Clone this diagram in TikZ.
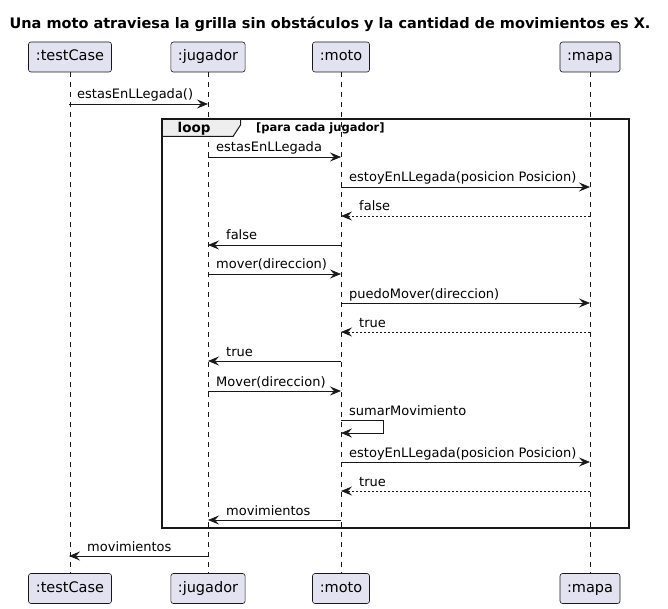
\documentclass[tikz,border=0pt]{standalone}
\usepackage{fontspec}
\setmainfont{DejaVu Sans}
\usetikzlibrary{arrows.meta}
\definecolor{boxfill}{HTML}{E2E2F0}
\definecolor{ink}{HTML}{181818}
\definecolor{tabfill}{HTML}{EEEEEE}
\tikzset{
  part/.style={draw=ink, line width=0.6pt, fill=boxfill, rounded corners=2.5pt, minimum height=30pt, inner xsep=7pt, text height=10.5pt, text depth=3.5pt, font=\fontsize{14.5}{16}\selectfont},
  lifeline/.style={draw=ink, line width=0.5pt, dash pattern=on 5pt off 5pt},
  call/.style={draw=ink, line width=0.8pt, -{Stealth[length=11pt,width=9pt,inset=4pt]}},
  ret/.style={call, dash pattern=on 2pt off 2pt},
  lbl/.style={font=\fontsize{13}{15}\selectfont, anchor=base west, inner sep=0pt, text=black},
}
\newcommand{\msgline}[6]{%
  \coordinate (a#1) at (#2,#4);
  \coordinate (b#1) at (#3,#4);
  \draw[#6] (a#1) -- (b#1);
}
\begin{document}
\begin{tikzpicture}[x=1pt,y=-1pt]
\useasboundingbox (0,0) rectangle (668,609);
\node[font=\bfseries\fontsize{14.5}{16}\selectfont, anchor=base] (title) at (330,29) {Una moto atraviesa la grilla sin obstáculos y la cantidad de movimientos es X.};
% participants
\node[part, minimum width=83pt] (tT) at (70,57) {:testCase};
\node[part, minimum width=72pt] (tJ) at (208,57) {:jugador};
\node[part, minimum width=57pt] (tM) at (341,57) {:moto};
\node[part, minimum width=58pt] (tP) at (590,57) {:mapa};
\node[part, minimum width=83pt] (bT) at (70,588.5) {:testCase};
\node[part, minimum width=72pt] (bJ) at (208,588.5) {:jugador};
\node[part, minimum width=57pt] (bM) at (341,588.5) {:moto};
\node[part, minimum width=58pt] (bP) at (590,588.5) {:mapa};
\foreach \p in {T,J,M,P} \draw[lifeline] (t\p.south) -- (b\p.north);
% loop frame
\coordinate (fA) at (162,119);
\coordinate (fB) at (629,528);
\draw[fill=tabfill, draw=ink, line width=1pt] (162,119) -- (240.5,119) -- (240.5,125) -- (233,136.5) -- (162,136.5) -- cycle;
\draw[draw=ink, line width=1.5pt] (fA) rectangle (fB);
\node[font=\bfseries\fontsize{13.5}{15}\selectfont, anchor=base west, inner sep=0pt] (looplbl) at (177.5,132.5) {loop};
\node[font=\bfseries\fontsize{11.5}{13}\selectfont, anchor=base west, inner sep=0pt] (loopcond) at (256,131.5) {[para cada jugador]};
% messages
\msgline{1}{69}{208}{104}{}{call}
\node[lbl] at (77,99) {estasEnLLegada()};
\msgline{2}{208}{341}{157}{}{call}
\node[lbl] at (216,152) {estasEnLLegada};
\msgline{3}{341}{590}{187}{}{call}
\node[lbl] at (349,182) {estoyEnLLegada(posicion Posicion)};
\msgline{4}{590}{341}{216}{}{ret}
\node[lbl] at (359,211) {false};
\msgline{5}{341}{208}{245}{}{call}
\node[lbl] at (226,240) {false};
\msgline{6}{208}{341}{274}{}{call}
\node[lbl] at (216,269) {mover(direccion)};
\msgline{7}{341}{590}{303}{}{call}
\node[lbl] at (349,298) {puedoMover(direccion)};
\msgline{8}{590}{341}{332}{}{ret}
\node[lbl] at (359,327) {true};
\msgline{9}{341}{208}{361}{}{call}
\node[lbl] at (226,356) {true};
\msgline{10}{208}{341}{391}{}{call}
\node[lbl] at (216,386) {Mover(direccion)};
% self message
\coordinate (s1) at (341,420.5);
\coordinate (s2) at (383,420.5);
\coordinate (s3) at (383,433);
\coordinate (s4) at (341,433);
\draw[call] (s1) -- (s2) -- (s3) -- (s4);
\node[lbl] at (349,415) {sumarMovimiento};
\msgline{11}{341}{590}{462}{}{call}
\node[lbl] at (349,457) {estoyEnLLegada(posicion Posicion)};
\msgline{12}{590}{341}{491}{}{ret}
\node[lbl] at (359,486) {true};
\msgline{13}{341}{208}{520}{}{call}
\node[lbl] at (226,515) {movimientos};
\msgline{14}{208}{69}{556}{}{call}
\node[lbl] at (87,551) {movimientos};
\end{tikzpicture}
\end{document}
